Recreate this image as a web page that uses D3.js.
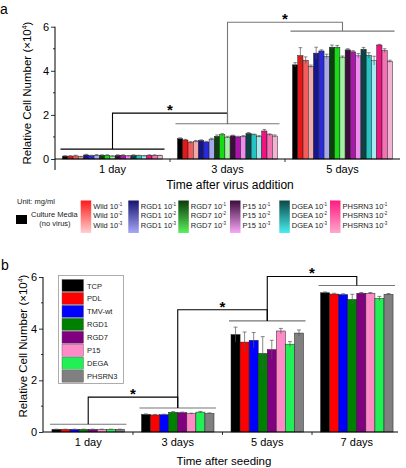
<!DOCTYPE html>
<html>
<head>
<meta charset="utf-8">
<script src="https://cdn.jsdelivr.net/npm/d3@7"></script>
<style>
body { margin: 0; background: #fff; }
svg { display: block; font-family: "Liberation Sans", Arial, sans-serif; }
</style>
</head>
<body>
<svg id="chart" width="406" height="468"></svg>
<script>
// ---- panel a data ----
const daysA = ["1 day", "3 days", "5 days"];
const seriesA = ["Culture Media",
    "Wild 10-1", "Wild 10-2", "Wild 10-3",
    "RGD1 10-1", "RGD1 10-2", "RGD1 10-3",
    "RGD7 10-1", "RGD7 10-2", "RGD7 10-3",
    "P15 10-1", "P15 10-2", "P15 10-3",
    "DGEA 10-1", "DGEA 10-2", "DGEA 10-3",
    "PHSRN3 10-1", "PHSRN3 10-2", "PHSRN3 10-3"];
const valuesA = [
    [0.13, 0.13, 0.14, 0.10, 0.18, 0.15, 0.17, 0.17, 0.17, 0.13, 0.17, 0.17, 0.14, 0.17, 0.15, 0.14, 0.17, 0.17, 0.15],
    [0.92, 0.86, 0.75, 0.80, 0.84, 0.77, 0.90, 1.03, 1.10, 0.99, 1.05, 1.00, 1.02, 1.16, 1.10, 1.02, 1.27, 1.10, 1.04],
    [4.27, 4.69, 4.48, 4.20, 4.80, 4.90, 4.65, 5.07, 5.07, 4.62, 4.95, 4.86, 4.68, 4.98, 4.70, 4.46, 5.17, 4.92, 4.43]
];
const errorsA = [
    [0.02, 0.02, 0.03, 0.02, 0.03, 0.02, 0.03, 0.02, 0.02, 0.02, 0.02, 0.02, 0.02, 0.02, 0.02, 0.02, 0.02, 0.02, 0.02],
    [0.04, 0.03, 0.04, 0.04, 0.03, 0.03, 0.04, 0.06, 0.05, 0.04, 0.03, 0.03, 0.04, 0.04, 0.03, 0.04, 0.07, 0.04, 0.05],
    [0.10, 0.36, 0.15, 0.06, 0.27, 0.05, 0.10, 0.10, 0.08, 0.05, 0.05, 0.05, 0.10, 0.08, 0.12, 0.20, 0.03, 0.08, 0.05]
];
const colorsA = ["#000000",
    "#e81616", "#f25c5c", "#f4a8a8",
    "#16168c", "#2a2adc", "#a8a8ee",
    "#0c400c", "#16dc16", "#a4f0a4",
    "#3c0c3c", "#ac14ac", "#f08cf0",
    "#0c4444", "#22c4c4", "#a4eaf0",
    "#f01482", "#f272b2", "#f4b2d4"];
const peptidesA = ["Wild", "RGD1", "RGD7", "P15", "DGEA", "PHSRN3"];
const concA = ["-1", "-2", "-3"];
const gradA = [["#ff1a1a", "#ffd0d0"], ["#141470", "#a8a8f8"], ["#0c3a0c", "#5cf05c"],
    ["#3c0c3c", "#f8a8f8"], ["#0c4848", "#48f0f0"], ["#ff1a80", "#ffa8cc"]];
// significance: level line per day, bracket tops between neighbouring days
const levelsA = [0.45, 1.6, 5.8];
const topsA = [2.08, 6.2];

// ---- panel b data ----
const daysB = ["1 day", "3 days", "5 days", "7 days"];
const seriesB = ["TCP", "PDL", "TMV-wt", "RGD1", "RGD7", "P15", "DEGA", "PHSRN3"];
const valuesB = [
    [0.10, 0.10, 0.10, 0.10, 0.10, 0.10, 0.10, 0.10],
    [0.68, 0.66, 0.67, 0.76, 0.75, 0.71, 0.77, 0.72],
    [3.77, 3.48, 3.55, 3.04, 3.19, 3.91, 3.40, 3.83],
    [5.39, 5.34, 5.32, 5.13, 5.37, 5.37, 5.17, 5.33]
];
const errorsB = [
    [0.01, 0.01, 0.01, 0.01, 0.01, 0.01, 0.01, 0.01],
    [0.02, 0.02, 0.02, 0.03, 0.02, 0.02, 0.03, 0.02],
    [0.29, 0.39, 0.30, 0.65, 0.36, 0.10, 0.10, 0.12],
    [0.03, 0.03, 0.03, 0.20, 0.03, 0.03, 0.08, 0.03]
];
const colorsB = ["#000000", "#ff0000", "#0000ff", "#008000", "#800080", "#ff8ac8", "#22ee55", "#808080"];
const levelsB = [0.3, 0.93, 4.3, 5.67];
const topsB = [1.35, 4.73, 6.02];

const svg = d3.select("#chart");

function Panel(opts) {
    let self = this;
    Object.assign(self, opts);
    self.init();
}

Panel.prototype.init = function() {
    let self = this;
    self.g = svg.append("g");

    self.x0 = d3.scaleBand()
        .domain(self.days)
        .range([self.left, self.right])
        .paddingInner(self.padIn)
        .paddingOuter(self.padOut);
    self.x1 = d3.scaleBand()
        .domain(d3.range(self.series.length))
        .range([0, self.x0.bandwidth()]);
    self.y = d3.scaleLinear().domain([0, 6]).range([self.bottom, self.top]);

    self.drawBars();
    self.drawAxes();
    self.drawBrackets();
}

Panel.prototype.drawBars = function() {
    let self = this;
    const x1 = self.x1, y = self.y;

    self.days.forEach(function(day, i) {
        const grp = self.g.append("g")
            .attr("transform", "translate(" + self.x0(day) + ",0)");

        grp.selectAll("rect")
            .data(self.values[i])
            .join("rect")
            .attr("x", (d, j) => x1(j))
            .attr("y", d => y(d))
            .attr("width", x1.bandwidth())
            .attr("height", d => y(0) - y(d))
            .attr("fill", (d, j) => self.colors[j])
            .attr("stroke", "#222")
            .attr("stroke-width", 0.5);

        // error bars
        const eb = grp.selectAll("g.err")
            .data(self.values[i].map((v, j) => ({v: v, e: self.errors[i][j], j: j})))
            .join("g")
            .attr("class", "err")
            .attr("stroke", "#555")
            .attr("stroke-width", 0.7);
        eb.append("line")
            .attr("x1", d => x1(d.j) + x1.bandwidth() / 2)
            .attr("x2", d => x1(d.j) + x1.bandwidth() / 2)
            .attr("y1", d => y(d.v + d.e))
            .attr("y2", d => y(d.v - d.e));
        eb.append("line")
            .attr("x1", d => x1(d.j) + x1.bandwidth() / 2 - self.cap)
            .attr("x2", d => x1(d.j) + x1.bandwidth() / 2 + self.cap)
            .attr("y1", d => y(d.v + d.e))
            .attr("y2", d => y(d.v + d.e));
    });
}

Panel.prototype.drawAxes = function() {
    let self = this;
    const y = self.y;

    const yAxis = d3.axisLeft(y)
        .tickValues([0, 2, 4, 6])
        .tickFormat(d3.format("d"))
        .tickSize(4)
        .tickPadding(2);
    const ya = self.g.append("g")
        .attr("transform", "translate(" + self.left + ",0)")
        .call(yAxis);
    ya.select(".domain").attr("d", "M0," + y(6) + "V" + (y(0) + self.yExtend));
    ya.selectAll("text").attr("font-size", self.tickFont).attr("font-family", null);
    ya.selectAll("line").attr("stroke-width", 0.8);

    // minor ticks
    self.g.append("g")
        .selectAll("line")
        .data([1, 3, 5])
        .join("line")
        .attr("x1", self.left - 2)
        .attr("x2", self.left)
        .attr("y1", d => y(d))
        .attr("y2", d => y(d))
        .attr("stroke", "#000")
        .attr("stroke-width", 0.8);

    const xa = self.g.append("g")
        .attr("transform", "translate(0," + y(0) + ")")
        .call(d3.axisBottom(self.x0).tickSize(0).tickPadding(self.xPad));
    xa.select(".domain").attr("d", "M" + self.left + ",0H" + self.axisEnd);
    xa.selectAll("text").attr("font-size", self.tickFont).attr("font-family", null);

    // tick marks sit between the day groups
    const step = self.x0.step();
    self.g.append("g")
        .selectAll("line")
        .data(self.days.slice(1))
        .join("line")
        .attr("x1", d => self.x0(d) - step * self.padIn / 2)
        .attr("x2", d => self.x0(d) - step * self.padIn / 2)
        .attr("y1", y(0))
        .attr("y2", y(0) + 3)
        .attr("stroke", "#000")
        .attr("stroke-width", 0.8);

    const yl = self.g.append("text")
        .attr("transform", "translate(" + self.ylabX + "," + self.ylabY + ") rotate(-90)")
        .attr("text-anchor", "middle")
        .attr("font-size", "11.5px")
        .text("Relative Cell Number (\u00d710");
    yl.append("tspan").attr("font-size", "7px").attr("dy", -4.5).text("4");
    yl.append("tspan").attr("dy", 4.5).text(")");

    self.g.append("text")
        .attr("x", self.xtitleX)
        .attr("y", self.xtitleY)
        .attr("text-anchor", "middle")
        .attr("font-size", self.titleFont)
        .text(self.xtitle);

    self.g.append("text")
        .attr("x", self.letterX)
        .attr("y", self.letterY)
        .attr("font-size", "14px")
        .text(self.letter);
}

Panel.prototype.drawBrackets = function() {
    let self = this;
    const y = self.y, x0 = self.x0;
    const mid = d => x0(d) + x0.bandwidth() / 2;

    self.levels.forEach(function(lv, i) {
        self.g.append("line")
            .attr("x1", x0(self.days[i]) - 2)
            .attr("x2", x0(self.days[i]) + x0.bandwidth() + 2)
            .attr("y1", y(lv))
            .attr("y2", y(lv))
            .attr("stroke", self.levelColors[i])
            .attr("stroke-width", 1.1);
    });

    self.tops.forEach(function(t, i) {
        const xa = mid(self.days[i]), xb = mid(self.days[i + 1]);
        self.g.append("path")
            .attr("d", "M" + xa + "," + y(self.levels[i]) + "V" + y(t) + "H" + xb + "V" + y(self.levels[i + 1]))
            .attr("fill", "none")
            .attr("stroke", self.topColors[i])
            .attr("stroke-width", 1.1);
        self.g.append("text")
            .attr("x", (xa + xb) / 2)
            .attr("y", y(t) + 2)
            .attr("text-anchor", "middle")
            .attr("font-size", "15px")
            .attr("font-weight", "bold")
            .text("*");
    });
}

new Panel({
    days: daysA, series: seriesA, values: valuesA, errors: errorsA, colors: colorsA,
    levels: levelsA, tops: topsA,
    levelColors: ["#000", "#777", "#777"], topColors: ["#000", "#777"],
    left: 55, right: 400, top: 26.7, bottom: 159, padIn: 0.13, padOut: 0.065,
    axisEnd: 400, yExtend: 11, cap: 1.8, xPad: 6, tickFont: "11px", titleFont: "12px",
    ylabX: 31, ylabY: 93, xtitle: "Time after virus addition", xtitleX: 230, xtitleY: 189,
    letter: "a", letterX: 0, letterY: 14
});

new Panel({
    days: daysB, series: seriesB, values: valuesB, errors: errorsB, colors: colorsB,
    levels: levelsB, tops: topsB,
    levelColors: ["#777", "#777", "#777", "#777"], topColors: ["#000", "#000", "#000"],
    left: 43, right: 402, top: 277, bottom: 432, padIn: 0.19, padOut: 0.1,
    axisEnd: 398, yExtend: 0, cap: 2, xPad: 6, tickFont: "11px", titleFont: "11.5px",
    ylabX: 27, ylabY: 346, xtitle: "Time after seeding", xtitleX: 224, xtitleY: 465,
    letter: "b", letterX: 1, letterY: 270
});

// ---- legend a ----
const legA = svg.append("g").attr("font-size", "7.5px").attr("fill", "#222");
legA.append("text").attr("x", 17).attr("y", 204).text("Unit: mg/ml");
legA.append("rect").attr("x", 16).attr("y", 215).attr("width", 11).attr("height", 9).attr("fill", colorsA[0]);
legA.append("text").attr("x", 31).attr("y", 216.5).text(seriesA[0]);
legA.append("text").attr("x", 55).attr("y", 226).attr("text-anchor", "middle").text("(no virus)");

const colX = [80.7, 128.3, 178.3, 230, 279.3, 330];
const defs = svg.append("defs");
peptidesA.forEach(function(p, i) {
    const grad = defs.append("linearGradient")
        .attr("id", "grad" + i)
        .attr("x1", 0).attr("y1", 0).attr("x2", 0).attr("y2", 1);
    grad.append("stop").attr("offset", "0%").attr("stop-color", gradA[i][0]);
    grad.append("stop").attr("offset", "100%").attr("stop-color", gradA[i][1]);

    legA.append("rect")
        .attr("x", colX[i]).attr("y", 200.5)
        .attr("width", 10.5).attr("height", 32.5)
        .attr("fill", "url(#grad" + i + ")");

    concA.forEach(function(c, k) {
        const t = legA.append("text")
            .attr("x", colX[i] + 12.5)
            .attr("y", 208.5 + k * 9.5)
            .text(p + " 10");
        t.append("tspan").attr("font-size", "4.5px").attr("dy", -3).text(c);
    });
});

// ---- legend b ----
const legB = svg.append("g").attr("font-size", "7.5px").attr("fill", "#222");
legB.append("rect")
    .attr("x", 58.5).attr("y", 275.5).attr("width", 65).attr("height", 108)
    .attr("fill", "#fff").attr("stroke", "#999").attr("stroke-width", 0.8);
seriesB.forEach(function(s, i) {
    legB.append("rect")
        .attr("x", 62).attr("y", 279.5 + i * 12.95)
        .attr("width", 21.5).attr("height", 12)
        .attr("fill", colorsB[i]).attr("stroke", "#555").attr("stroke-width", 0.4);
    legB.append("text")
        .attr("x", 87).attr("y", 288.5 + i * 12.95)
        .text(s);
});
</script>
</body>
</html>
